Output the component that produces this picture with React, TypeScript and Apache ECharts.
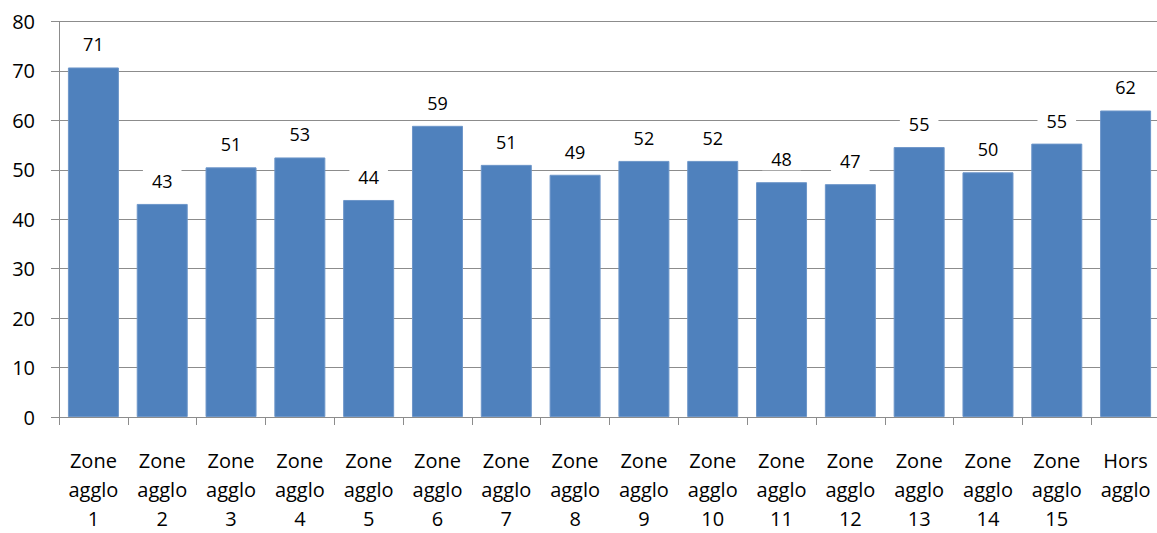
import React, { useEffect, useRef } from "react";
import * as echarts from "echarts";

const categories = [
  "Zone\nagglo\n1", "Zone\nagglo\n2", "Zone\nagglo\n3", "Zone\nagglo\n4",
  "Zone\nagglo\n5", "Zone\nagglo\n6", "Zone\nagglo\n7", "Zone\nagglo\n8",
  "Zone\nagglo\n9", "Zone\nagglo\n10", "Zone\nagglo\n11", "Zone\nagglo\n12",
  "Zone\nagglo\n13", "Zone\nagglo\n14", "Zone\nagglo\n15", "Hors\nagglo",
];
const values = [70.7, 43.1, 50.5, 52.5, 43.9, 58.9, 51.0, 49.0, 51.8, 51.8, 47.5, 47.1, 54.6, 49.5, 55.3, 62.0];
const yMin = 0;
const yMax = 80;
const yInterval = 10;

const FONT = "Open Sans";

export default function App() {
  const ref = useRef<HTMLDivElement>(null);
  useEffect(() => {
    if (!ref.current) return;
    const chart = echarts.init(ref.current, null, { renderer: "svg" });
    chart.setOption({
      animation: false,
      backgroundColor: "#ffffff",
      grid: { left: 59, right: 0, top: 21.5, bottom: 109, containLabel: false },
      xAxis: {
        type: "category",
        data: categories,
        boundaryGap: true,
        axisLine: { show: true, lineStyle: { color: "#8c8c8c", width: 1 } },
        axisTick: { show: true, length: 8, lineStyle: { color: "#8c8c8c" } },
        axisLabel: {
          interval: 0,
          color: "#000000",
          fontFamily: FONT,
          fontSize: 20,
          lineHeight: 29,
          margin: 29,
        },
      },
      yAxis: {
        type: "value",
        min: yMin,
        max: yMax,
        interval: yInterval,
        axisLine: { show: true, lineStyle: { color: "#8c8c8c", width: 1 } },
        axisTick: { show: true, length: 8, inside: false, lineStyle: { color: "#8c8c8c" } },
        splitLine: { show: true, lineStyle: { color: "#8c8c8c", width: 1 } },
        axisLabel: {
          color: "#000000",
          fontFamily: FONT,
          fontSize: 20,
          margin: 24,
        },
      },
      series: [
        {
          type: "bar",
          data: values,
          barWidth: 51,
          itemStyle: { color: "#4F81BD", borderColor: "#6d96c9", borderWidth: 1 },
          label: {
            show: true,
            position: "top",
            distance: 12,
            color: "#000000",
            fontFamily: FONT,
            fontSize: 18,
            lineHeight: 18,
            backgroundColor: "#ffffff",
            padding: [2, 9],
            formatter: (p: any) => String(Math.round(p.value)),
          },
        },
      ],
    });
    return () => chart.dispose();
  }, []);
  return (
    <div style={{ position: "fixed", left: 0, top: 0, width: 1157, height: 533, overflow: "hidden", background: "#fff" }}>
      <div ref={ref} style={{ width: 1160, height: 533 }} />
    </div>
  );
}
